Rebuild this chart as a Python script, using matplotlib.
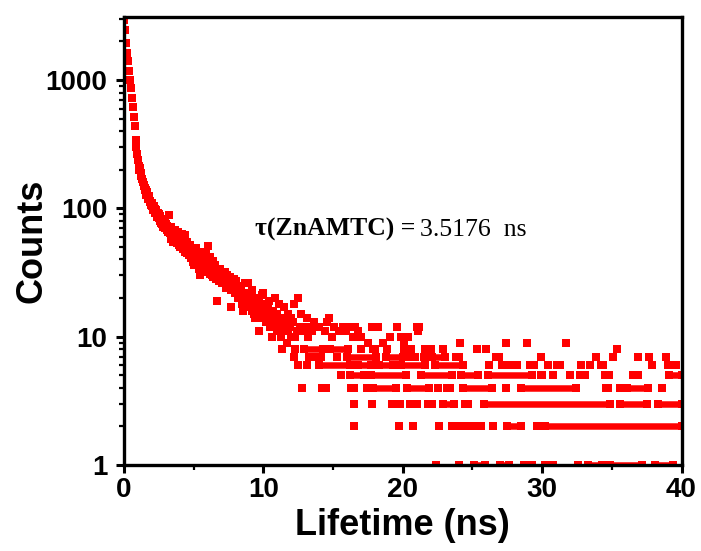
import matplotlib
matplotlib.use("Agg")
import matplotlib.pyplot as plt
from matplotlib.ticker import FixedLocator, LogLocator, NullFormatter, FixedFormatter

RED = "#FF0000"

# ---- early decay + scattered band (lifetime ns, counts) ----
decay_t = [0.00, 0.07, 0.14, 0.21, 0.28, 0.35, 0.42, 0.49, 0.56, 0.63, 0.70, 0.77, 0.84, 0.88, 0.92, 0.98, 1.04, 1.10,
           1.15, 1.20, 1.25, 1.30, 1.35, 1.40, 1.45, 1.50, 1.55, 1.60, 1.65, 1.70, 1.75, 1.80, 1.85, 1.90, 1.95, 2.00,
           2.05, 2.10, 2.15, 2.20, 2.25, 2.30, 2.35, 2.40, 2.45, 2.50, 2.55, 2.60, 2.65, 2.70, 2.75, 2.80, 2.85, 2.90,
           2.95, 3.00, 3.05, 3.10, 3.15, 3.20, 3.25, 3.30, 3.35, 3.40, 3.45, 3.50, 3.55, 3.60, 3.65, 3.70, 3.75, 3.80,
           3.85, 3.90, 3.95, 4.00, 4.05, 4.10, 4.15, 4.20, 4.25, 4.30, 4.35, 4.40, 4.45, 4.50, 4.55, 4.60, 4.65, 4.70,
           4.75, 4.80, 4.85, 4.90, 4.95, 5.00, 5.05, 5.10, 5.15, 5.20, 5.25, 5.30, 5.35, 5.40, 5.45, 5.50, 5.55, 5.60,
           5.65, 5.70, 5.75, 5.80, 5.85, 5.90, 5.95, 6.00, 6.05, 6.10, 6.15, 6.20, 6.25, 6.30, 6.35, 6.40, 6.45, 6.50,
           6.55, 6.60, 6.65, 6.70, 6.75, 6.80, 6.85, 6.90, 6.95, 7.00, 7.10, 7.20, 7.25, 7.30, 7.40, 7.50, 7.60, 7.70,
           7.75, 7.80, 7.90, 8.00, 8.10, 8.20, 8.30, 8.40, 8.50, 8.55, 8.60, 8.70, 8.80, 8.90, 9.00, 9.10, 9.20, 9.30,
           9.40, 9.50, 9.60, 9.70, 9.80, 9.90, 10.00, 10.10, 10.20, 10.30, 10.40, 10.50, 10.60, 10.70, 10.80, 10.90,
           11.00, 11.10, 11.20, 11.40, 11.50, 11.60, 11.70, 11.80, 11.90, 12.00, 12.10, 12.20, 12.30, 12.40, 12.50,
           12.60, 12.70, 12.90, 13.00, 13.10, 13.20, 13.30, 13.50, 13.60, 13.70, 14.00, 14.40, 14.60, 14.70, 14.90,
           15.10, 15.40, 15.70, 15.90, 16.00, 16.40, 16.60, 16.80, 17.00, 17.50, 17.80, 18.20, 18.60, 19.10, 19.60,
           19.90, 20.10, 20.40, 21.00, 21.10, 21.20, 24.10, 27.40, 28.90, 31.70]
decay_counts = [2950, 2450, 1950, 1620, 1400, 1170, 1000, 860, 720, 620, 520, 435, 340, 300, 265, 240, 215, 200,
                205, 190, 178, 170, 160, 152, 150, 140, 138, 128, 132, 122, 118, 125, 112, 115, 106, 110,
                102, 97, 104, 95, 92, 98, 90, 86, 92, 84, 80, 88, 77, 83, 75, 72, 80, 74,
                70, 76, 68, 73, 66, 89, 70, 64, 58, 72, 62, 66, 55, 60, 68, 57, 62, 54,
                65, 58, 52, 60, 50, 56, 63, 48, 54, 58, 46, 62, 50, 45, 55, 49, 43, 52,
                47, 41, 49, 44, 38, 47, 36, 42, 45, 49, 39, 40, 34, 44, 30, 38, 46, 35,
                41, 33, 37, 37, 44, 32, 40, 51, 35, 38, 42, 31, 34, 33, 39, 29, 36, 32,
                36, 28, 19, 33, 30, 31, 27, 34, 29, 26, 32, 27, 32, 24, 30, 26, 29, 17,
                25, 23, 28, 27, 22, 25, 20, 24, 18, 16, 22, 26, 19, 26, 21, 17, 23, 15,
                14, 20, 18, 11, 16, 21, 22, 14, 13, 17, 19, 12, 10, 16, 20, 13,
                15, 18, 12, 11, 17, 13, 9, 15, 12, 14, 13, 18, 10, 11, 20,
                12, 15, 11, 12, 14, 10, 12, 11, 13, 12, 12, 11, 13, 14, 10,
                12, 11, 12, 11, 12, 10, 12, 11, 10, 9, 12, 12, 9, 10, 12,
                10, 9, 10, 12, 11, 12, 9, 9, 9, 9]

# interleaved channels of the dense band
band2_t = [1.52, 1.62, 1.72, 1.82, 1.92, 2.02, 2.12, 2.22, 2.32, 2.42, 2.52, 2.62, 2.72, 2.82, 2.92, 3.02,
           3.12, 3.22, 3.32, 3.42, 3.52, 3.62, 3.72, 3.82, 3.92, 4.02, 4.12, 4.22, 4.32, 4.42, 4.52, 4.62,
           4.72, 4.82, 4.92, 5.02, 5.12, 5.22, 5.32, 5.42, 5.52, 5.62, 5.72, 5.82, 5.92, 6.02, 6.12, 6.22,
           6.32, 6.42, 6.52, 6.62, 6.72, 6.82, 6.92, 7.05, 7.15, 7.35, 7.45, 7.55, 7.65, 7.85, 7.95, 8.05,
           8.15, 8.25, 8.35, 8.45, 8.65, 8.75, 8.85, 8.95, 9.05, 9.15, 9.25, 9.35, 9.45, 9.55, 9.65, 9.75,
           9.85, 9.95, 10.05, 10.15, 10.25, 10.35, 10.45, 10.55, 10.65, 10.75, 10.85, 10.95, 11.05, 11.15,
           11.25, 11.35, 11.45, 11.55, 11.65, 11.75, 11.85, 11.95]
band2_counts = [145, 135, 126, 118, 110, 105, 100, 99, 93, 88, 90, 82, 79, 77, 78, 71,
                69, 65, 68, 60, 63, 59, 64, 59, 55, 57, 52, 58, 51, 55, 51, 46,
                48, 45, 42, 44, 40, 43, 37, 41, 36, 39, 42, 35, 37, 39, 34, 36,
                30, 33, 35, 31, 28, 33, 30, 28, 30, 27, 25, 28, 23, 25, 22, 24,
                20, 23, 21, 19, 20, 17, 22, 18, 19, 16, 20, 18, 17, 15, 19, 14,
                17, 15, 16, 18, 15, 14, 13, 16, 14, 12, 15, 11, 13, 14,
                10, 13, 12, 11, 14, 11, 13, 10]

# ---- tail: runs of consecutive channels at the same count (start ns, end ns) ----
runs_1 = [(22.4, 22.4), (24.0, 24.0), (25.1, 25.9), (27.0, 27.6), (28.7, 28.7), (29.3, 29.3), (30.2, 30.2),
          (30.8, 30.8), (32.6, 32.6), (33.3, 34.3), (34.9, 37.2), (38.1, 39.4)]
runs_2 = [(16.5, 16.5), (19.7, 19.7), (20.7, 20.7), (22.6, 22.6), (23.5, 24.1), (24.7, 24.9), (25.5, 25.6),
          (26.5, 26.5), (27.5, 28.5), (29.6, 29.6), (30.2, 40.0)]
runs_3 = [(16.5, 16.5), (17.8, 17.8), (19.2, 19.8), (20.5, 21.0), (21.8, 22.1), (22.9, 23.7), (24.5, 24.7),
          (25.8, 34.9), (35.6, 37.5), (38.3, 40.0)]
runs_4 = [(12.8, 12.8), (14.2, 14.5), (16.3, 16.5), (17.4, 17.4), (17.9, 19.5), (20.3, 21.9), (22.5, 22.5),
          (23.2, 23.4), (24.3, 26.4), (27.4, 27.4), (28.5, 32.4), (34.6, 34.7), (35.6, 35.6), (36.1, 37.6),
          (38.6, 38.6)]
runs_5 = [(15.6, 15.6), (16.2, 17.2), (17.7, 20.2), (21.3, 23.5), (24.2, 25.4), (26.1, 29.3), (29.9, 30.0),
          (30.8, 30.8), (32.0, 32.0), (32.7, 33.1), (34.5, 34.8), (36.5, 36.9), (39.1, 40.0)]
runs_6 = [(12.5, 12.5), (13.1, 13.1), (14.0, 16.2), (16.8, 17.7), (18.3, 19.3), (19.9, 21.6), (22.3, 24.3),
          (26.2, 26.2), (27.1, 27.1), (27.7, 28.2), (29.1, 29.4), (30.4, 30.4), (31.1, 31.3), (32.8, 32.8),
          (33.4, 33.4), (34.2, 34.4), (37.9, 37.9), (39.0, 39.0), (39.6, 39.6)]
runs_7 = [(12.2, 12.2), (13.3, 13.3), (13.8, 14.1), (15.3, 15.3), (16.0, 18.1), (18.8, 20.0), (20.6, 20.9),
          (21.5, 21.5), (22.1, 23.0), (23.8, 24.0), (26.7, 26.9), (29.9, 29.9), (33.9, 33.9), (35.1, 35.1),
          (36.9, 36.9), (37.7, 37.7), (38.9, 38.9)]
runs_8 = [(11.3, 11.3), (12.3, 12.3), (12.9, 14.3), (14.8, 16.1), (17.0, 17.0), (17.9, 18.0), (18.9, 18.9),
          (20.1, 20.1), (20.6, 20.6), (21.6, 22.0), (22.9, 22.9), (25.3, 25.3), (26.0, 26.0), (35.4, 35.4)]
tail_levels = [1, 2, 3, 4, 5, 6, 7, 8]
tail_runs = [runs_1, runs_2, runs_3, runs_4, runs_5, runs_6, runs_7, runs_8]

x_ticks = [0, 10, 20, 30, 40]
y_ticks = [1, 10, 100, 1000]
y_tick_labels = ["1", "10", "100", "1000"]
annot_bold = "τ(ZnAMTC) ="
annot_regular = "3.5176  ns"

fig = plt.figure(figsize=(7.01, 5.51), dpi=100)
ax = fig.add_axes([0.1769, 0.1561, 0.7953, 0.8136])

MS = 5.2
ax.plot(decay_t, decay_counts, linestyle="none", marker="s", ms=MS, mew=0, color=RED)
ax.plot(band2_t, band2_counts, linestyle="none", marker="s", ms=MS, mew=0, color=RED)
for lvl, runs in zip(tail_levels, tail_runs):
    for t0, t1 in runs:
        ax.plot([t0, t1], [lvl, lvl], color=RED, lw=MS * 0.9, solid_capstyle="butt",
                marker="s", ms=MS, mew=0)

ax.set_yscale("log")
ax.set_xlim(0, 40)
ax.set_ylim(1, 3120)

ax.xaxis.set_major_locator(FixedLocator(x_ticks))
ax.xaxis.set_minor_locator(FixedLocator([5, 15, 25, 35]))
ax.yaxis.set_major_locator(FixedLocator(y_ticks))
ax.yaxis.set_major_formatter(FixedFormatter(y_tick_labels))
ax.yaxis.set_minor_locator(LogLocator(base=10, subs=range(2, 10), numticks=20))
ax.yaxis.set_minor_formatter(NullFormatter())

for lab in ax.get_xticklabels() + ax.get_yticklabels():
    lab.set_fontfamily("Liberation Sans")
    lab.set_fontweight("bold")
    lab.set_fontsize(20)

ax.tick_params(which="major", direction="out", length=6, width=2.2, pad=3)
ax.tick_params(axis="y", which="major", pad=6)
ax.tick_params(which="minor", direction="out", length=3.5, width=1.6)
ax.tick_params(axis="both", which="both", top=False, right=False)
for sp in ax.spines.values():
    sp.set_linewidth(2.4)
    sp.set_zorder(5)

ax.set_xlabel("Lifetime (ns)", fontfamily="Liberation Sans", fontweight="bold", fontsize=26)
ax.set_ylabel("Counts", fontfamily="Liberation Sans", fontweight="bold", fontsize=26)
ax.xaxis.set_label_coords(0.5, -0.097)
ax.yaxis.set_label_coords(-0.134, 0.5)

t1 = ax.text(9.4, 61, annot_bold, fontfamily="Liberation Serif", fontweight="bold",
             fontsize=18.5, va="baseline")
fig.canvas.draw()
bb = t1.get_window_extent()
ax.annotate(annot_regular, xy=(bb.x1, bb.y0), xycoords="figure pixels",
            xytext=(5, 0), textcoords="offset pixels",
            fontfamily="Liberation Serif", fontsize=18.5, va="bottom")

fig.savefig("out.png", dpi=100)
